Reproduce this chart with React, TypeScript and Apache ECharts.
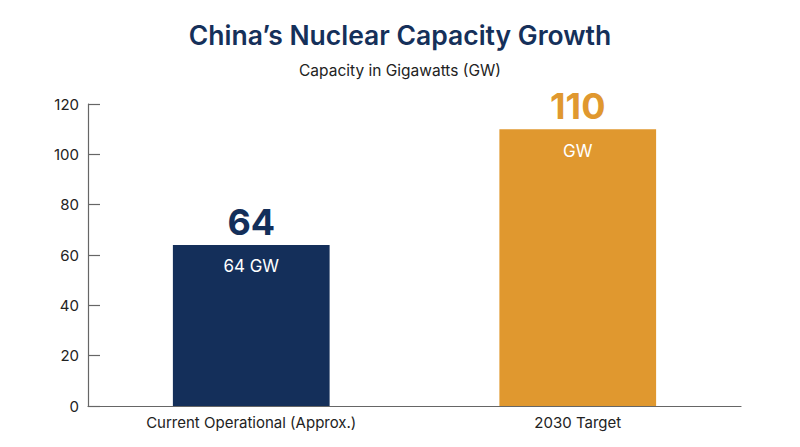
import React, { useEffect, useRef } from "react";
import * as echarts from "echarts";

const categories = ["Current Operational (Approx.)", "2030 Target"];
const values = [64, 110];
const topLabels = ["64", "110"];
const insideLabels = ["64 GW", "GW"];
const barColors = ["#142f5a", "#e0982f"];
const yTicks = { min: 0, max: 120, interval: 20 };

const FONT = "Inter, Lato, sans-serif";

export default function App() {
  const ref = useRef<HTMLDivElement>(null);
  useEffect(() => {
    if (!ref.current) return;
    const chart = echarts.init(ref.current, null, { renderer: "svg" });
    chart.setOption({
      animation: false,
      backgroundColor: "#ffffff",
      textStyle: { fontFamily: FONT },
      title: {
        text: "China\u2019s Nuclear Capacity Growth",
        subtext: "Capacity in Gigawatts (GW)",
        left: "center",
        top: 16,
        itemGap: 14,
        textStyle: { fontFamily: FONT, fontSize: 26.5, fontWeight: 600, color: "#15305a" },
        subtextStyle: { fontFamily: FONT, fontSize: 15.5, color: "#222222" },
      },
      grid: { left: 88, right: 59, top: 104, bottom: 41, containLabel: false },
      xAxis: {
        type: "category",
        data: categories,
        axisLine: { lineStyle: { color: "#666666", width: 1.2 } },
        axisTick: { show: false },
        axisLabel: { color: "#222222", fontSize: 15, margin: 9, fontFamily: FONT },
      },
      yAxis: {
        type: "value",
        min: yTicks.min,
        max: yTicks.max,
        interval: yTicks.interval,
        splitLine: { show: false },
        axisLine: { show: true, lineStyle: { color: "#666666", width: 1.2 } },
        axisTick: { show: true, inside: true, length: 12, lineStyle: { color: "#666666", width: 1.2 } },
        axisLabel: { color: "#222222", fontSize: 15, margin: 9, fontFamily: FONT },
      },
      series: [
        {
          type: "bar",
          barWidth: "48%",
          data: values.map((v, i) => ({
            value: v,
            itemStyle: { color: barColors[i] },
            label: {
              show: true,
              position: "top",
              distance: 5,
              formatter: topLabels[i],
              fontSize: 36,
              fontWeight: "bold",
              color: barColors[i],
              fontFamily: FONT,
            },
          })),
        },
        {
          type: "bar",
          barWidth: "48%",
          barGap: "-100%",
          silent: true,
          itemStyle: { color: "transparent" },
          data: values.map((v, i) => ({
            value: v,
            label: {
              show: true,
              position: "insideTop",
              distance: 13,
              formatter: insideLabels[i],
              fontSize: 17,
              color: "#ffffff",
              fontFamily: FONT,
            },
          })),
        },
      ],
    });
    return () => chart.dispose();
  }, []);
  return (
    <div
      ref={ref}
      style={{ position: "fixed", left: 0, top: 0, width: 800, height: 447 }}
    />
  );
}
